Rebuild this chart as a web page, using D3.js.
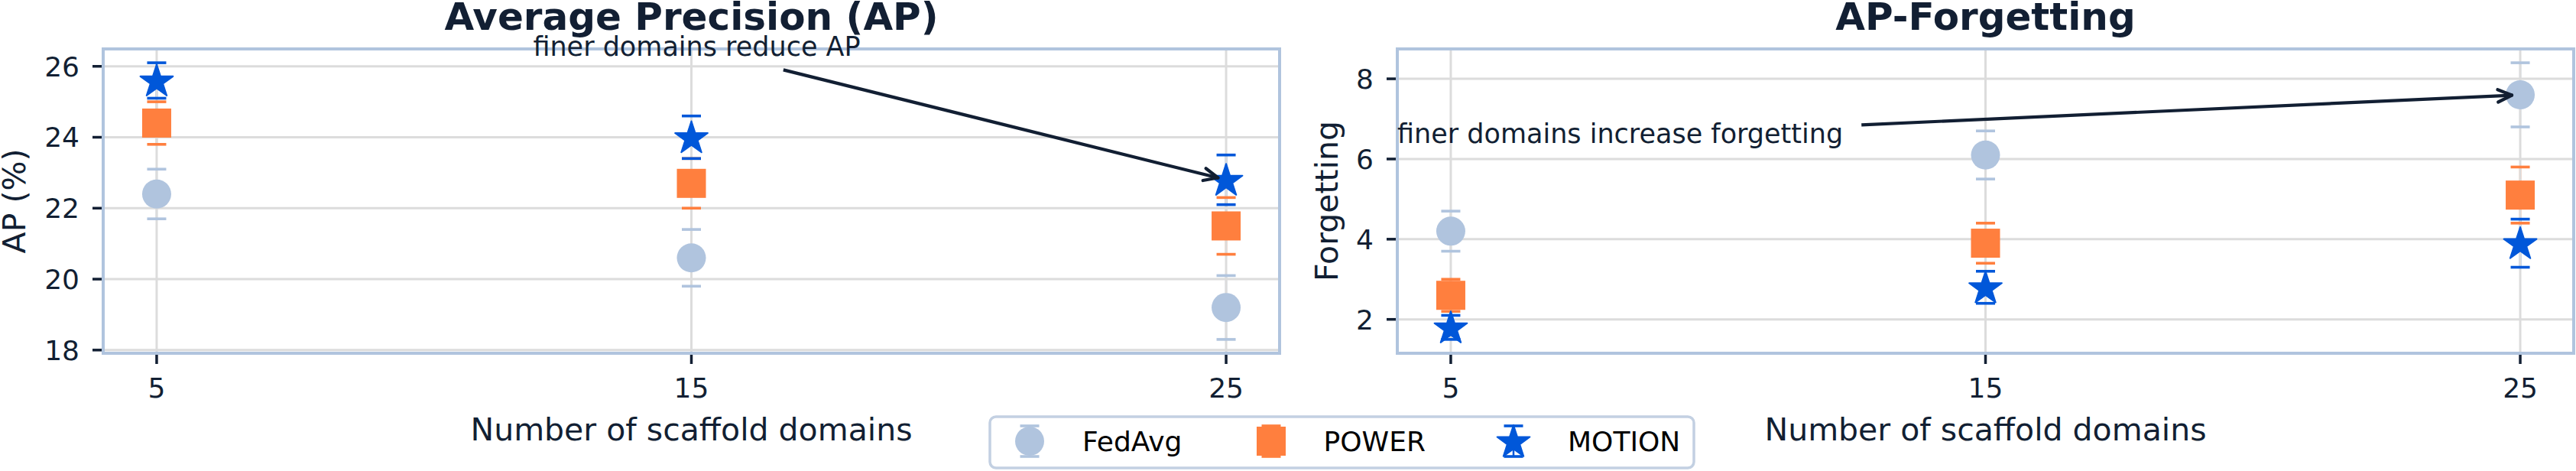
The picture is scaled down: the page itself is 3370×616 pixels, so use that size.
<!DOCTYPE html>
<html><head><meta charset="utf-8">
<script src="https://cdn.jsdelivr.net/npm/d3@7"></script>
<style>
body{margin:0;background:#fff}
svg{display:block}
text{font-family:"DejaVu Sans",sans-serif}
</style>
</head><body>
<svg id="c" width="3370" height="616"></svg>
<script>
// ---------- data ----------
const domains = [5, 15, 25];
const seriesNames = ["FedAvg", "POWER", "MOTION"];

const apFedAvg    = [22.4, 20.6, 19.2];
const apFedAvgErr = [0.7, 0.8, 0.9];
const apPower     = [24.4, 22.7, 21.5];
const apPowerErr  = [0.6, 0.7, 0.8];
const apMotion    = [25.6, 24.0, 22.8];
const apMotionErr = [0.5, 0.6, 0.7];

const fgFedAvg    = [4.2, 6.1, 7.6];
const fgFedAvgErr = [0.5, 0.6, 0.8];
const fgPower     = [2.6, 3.9, 5.1];
const fgPowerErr  = [0.4, 0.5, 0.7];
const fgMotion    = [1.8, 2.8, 3.9];
const fgMotionErr = [0.3, 0.4, 0.6];

const apTicks = [18, 20, 22, 24, 26];
const fgTicks = [2, 4, 6, 8];

const titles = ["Average Precision (AP)", "AP-Forgetting"];
const yLabels = ["AP (%)", "Forgetting"];
const xLabel = "Number of scaffold domains";

// annotations: text, text position (data), arrow start (data), arrow target (data)
const annoTexts = ["finer domains reduce AP", "finer domains increase forgetting"];
const annoTextPos = [[15.1, 26.29], [4.0, 6.40]];
const annoAnchor = ["middle", "start"];
const annoStart = [[16.72, 25.90], [12.68, 6.85]];
const annoTarget = [[25, 22.8], [25, 7.6]];

// ---------- style ----------
const colors = ["#b0c4de", "#ff7f3e", "#0057d9"];
const textColor = "#121f33";
const spineColor = "#b0c4de";
const gridColor = "#dcdcdc";

const svg = d3.select("#c");
const plotTop = 64, plotBottom = 462;
const panelX = [[135, 1674], [1828, 3367]];

function starPath(R) {
  const r = R * 0.381966;
  const pts = [];
  for (let k = 0; k < 10; k++) {
    const a = -Math.PI / 2 + k * Math.PI / 5;
    const rad = k % 2 === 0 ? R : r;
    pts.push([rad * Math.cos(a), rad * Math.sin(a)]);
  }
  return "M" + pts.map(p => p[0].toFixed(2) + "," + p[1].toFixed(2)).join("L") + "Z";
}

function drawMarker(g, idx, cx, cy) {
  const c = colors[idx];
  if (idx === 0) {
    g.append("circle").attr("cx", cx).attr("cy", cy).attr("r", 19).attr("fill", c);
  } else if (idx === 1) {
    g.append("rect").attr("x", cx - 19).attr("y", cy - 19).attr("width", 38).attr("height", 38).attr("fill", c);
  } else {
    g.append("path").attr("d", starPath(22.5)).attr("transform", `translate(${cx},${cy + 1.5})`)
      .attr("fill", c).attr("stroke", c).attr("stroke-width", 2).attr("stroke-linejoin", "round");
  }
}

const panels = [
  { vals: [apFedAvg, apPower, apMotion], errs: [apFedAvgErr, apPowerErr, apMotionErr], ticks: apTicks },
  { vals: [fgFedAvg, fgPower, fgMotion], errs: [fgFedAvgErr, fgPowerErr, fgMotionErr], ticks: fgTicks }
];

panels.forEach((p, pi) => {
  const [x0, x1] = panelX[pi];
  const g = svg.append("g");

  const xr = d3.extent(domains);
  const xm = (xr[1] - xr[0]) * 0.05;
  const x = d3.scaleLinear().domain([xr[0] - xm, xr[1] + xm]).range([x0, x1]);
  let lo = Infinity, hi = -Infinity;
  p.vals.forEach((v, si) => v.forEach((d, i) => {
    lo = Math.min(lo, d - p.errs[si][i]); hi = Math.max(hi, d + p.errs[si][i]);
  }));
  const ym = (hi - lo) * 0.05;
  const y = d3.scaleLinear().domain([lo - ym, hi + ym]).range([plotBottom, plotTop]);

  // error bar stems (under grid)
  p.vals.forEach((v, si) => v.forEach((d, i) => {
    g.append("line").attr("x1", x(domains[i])).attr("x2", x(domains[i]))
      .attr("y1", y(d - p.errs[si][i])).attr("y2", y(d + p.errs[si][i]))
      .attr("stroke", colors[si]).attr("stroke-width", 2.5);
  }));

  // grid
  p.ticks.forEach(t => {
    g.append("line").attr("x1", x0).attr("x2", x1).attr("y1", y(t)).attr("y2", y(t))
      .attr("stroke", gridColor).attr("stroke-width", 3);
  });
  domains.forEach(t => {
    g.append("line").attr("x1", x(t)).attr("x2", x(t)).attr("y1", plotTop).attr("y2", plotBottom)
      .attr("stroke", gridColor).attr("stroke-width", 3);
  });

  // caps
  p.vals.forEach((v, si) => v.forEach((d, i) => {
    [d - p.errs[si][i], d + p.errs[si][i]].forEach(e => {
      g.append("line").attr("x1", x(domains[i]) - 12.5).attr("x2", x(domains[i]) + 12.5)
        .attr("y1", y(e)).attr("y2", y(e)).attr("stroke", colors[si]).attr("stroke-width", 3.6);
    });
  }));

  // markers
  p.vals.forEach((v, si) => v.forEach((d, i) => drawMarker(g, si, x(domains[i]), y(d))));

  // spines
  g.append("rect").attr("x", x0).attr("y", plotTop).attr("width", x1 - x0).attr("height", plotBottom - plotTop)
    .attr("fill", "none").attr("stroke", spineColor).attr("stroke-width", 4);

  // y ticks
  p.ticks.forEach(t => {
    g.append("line").attr("x1", x0 - 14).attr("x2", x0 - 2).attr("y1", y(t)).attr("y2", y(t))
      .attr("stroke", textColor).attr("stroke-width", 3.5);
    g.append("text").attr("x", x0 - 31).attr("y", y(t)).attr("dy", "0.36em")
      .attr("text-anchor", "end").attr("font-size", 36).attr("fill", textColor).text(t);
  });
  // x ticks
  domains.forEach(t => {
    g.append("line").attr("x1", x(t)).attr("x2", x(t)).attr("y1", plotBottom + 2).attr("y2", plotBottom + 14)
      .attr("stroke", textColor).attr("stroke-width", 3.5);
    g.append("text").attr("x", x(t)).attr("y", 520)
      .attr("text-anchor", "middle").attr("font-size", 36).attr("fill", textColor).text(t);
  });

  // labels
  g.append("text").attr("x", (x0 + x1) / 2).attr("y", 576).attr("text-anchor", "middle")
    .attr("font-size", 41).attr("fill", textColor).text(xLabel);
  const ylx = pi === 0 ? 33 : x0 - 78;
  g.append("text").attr("transform", `translate(${ylx},${(plotTop + plotBottom) / 2}) rotate(-90)`)
    .attr("text-anchor", "middle").attr("font-size", 41).attr("fill", textColor).text(yLabels[pi]);

  // title
  g.append("text").attr("x", (x0 + x1) / 2).attr("y", 39).attr("text-anchor", "middle")
    .attr("font-size", 50).attr("font-weight", "bold").attr("fill", textColor).text(titles[pi]);

  // annotation
  const [tx, ty] = annoTextPos[pi];
  g.append("text").attr("x", x(tx)).attr("y", y(ty)).attr("text-anchor", annoAnchor[pi])
    .attr("font-size", 35).attr("fill", textColor).text(annoTexts[pi]);
  const sx = x(annoStart[pi][0]), sy = y(annoStart[pi][1]);
  const txp = x(annoTarget[pi][0]), typ = y(annoTarget[pi][1]);
  const dx = txp - sx, dy = typ - sy, L = Math.hypot(dx, dy);
  const ux = dx / L, uy = dy / L;
  const ex = txp - ux * 11, ey = typ - uy * 11;
  g.append("line").attr("x1", sx).attr("y1", sy).attr("x2", ex).attr("y2", ey)
    .attr("stroke", textColor).attr("stroke-width", 4.2).attr("stroke-linecap", "butt");
  const ang = 24 * Math.PI / 180, hl = 20;
  [ang, -ang].forEach(a => {
    const hx = -(ux * Math.cos(a) - uy * Math.sin(a)) * hl;
    const hy = -(ux * Math.sin(a) + uy * Math.cos(a)) * hl;
    g.append("line").attr("x1", ex).attr("y1", ey).attr("x2", ex + hx).attr("y2", ey + hy)
      .attr("stroke", textColor).attr("stroke-width", 4.2).attr("stroke-linecap", "round");
  });
});

// ---------- legend ----------
const lg = svg.append("g");
const lgX = 1295, lgY = 545, lgW = 921, lgH = 67;
lg.append("rect").attr("x", lgX).attr("y", lgY).attr("width", lgW).attr("height", lgH).attr("rx", 8)
  .attr("fill", "#fff").attr("stroke", "#c3d0e2").attr("stroke-width", 3.5);
const lgMarkerX = [52, 368, 685];
const lgTextX = [121, 436.5, 756];
seriesNames.forEach((name, si) => {
  const cx = lgX + lgMarkerX[si], cy = lgY + 32;
  lg.append("line").attr("x1", cx).attr("x2", cx).attr("y1", cy - 20).attr("y2", cy + 20)
    .attr("stroke", colors[si]).attr("stroke-width", 2.5);
  [cy - 20, cy + 20].forEach(e => lg.append("line").attr("x1", cx - 12.5).attr("x2", cx + 12.5)
    .attr("y1", e).attr("y2", e).attr("stroke", colors[si]).attr("stroke-width", 3.6));
  drawMarker(lg, si, cx, cy);
  lg.append("text").attr("x", lgX + lgTextX[si]).attr("y", lgY + 45).attr("font-size", 36)
    .attr("fill", "#000").text(name);
});
</script>
</body></html>
